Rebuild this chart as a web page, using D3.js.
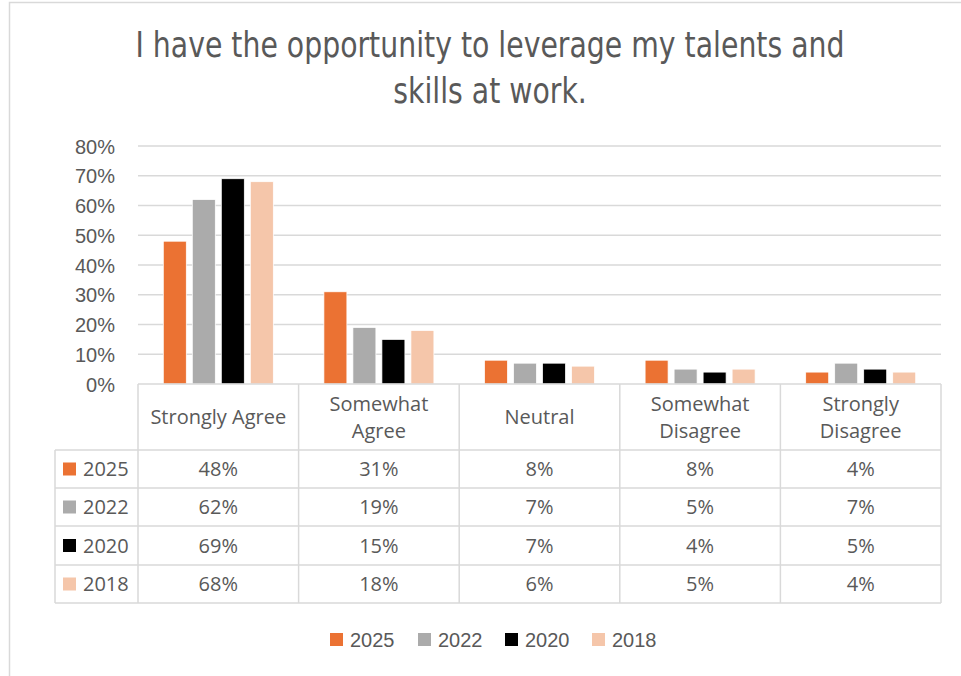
<!DOCTYPE html>
<html>
<head>
<meta charset="utf-8">
<script src="https://cdn.jsdelivr.net/npm/d3@7"></script>
<style>
  html, body { margin: 0; padding: 0; background: #fff; }
  svg { display: block; }
</style>
</head>
<body>
<svg id="chart" width="961" height="676"></svg>
<script>
// Survey responses by year (percent)
const categories = ["Strongly Agree", "Somewhat Agree", "Neutral", "Somewhat Disagree", "Strongly Disagree"];
const categoryLines = [["Strongly Agree"], ["Somewhat", "Agree"], ["Neutral"], ["Somewhat", "Disagree"], ["Strongly", "Disagree"]];
const years = ["2025", "2022", "2020", "2018"];
const v2025 = [48, 31, 8, 8, 4];
const v2022 = [62, 19, 7, 5, 7];
const v2020 = [69, 15, 7, 4, 5];
const v2018 = [68, 18, 6, 5, 4];
const yTicks = [0, 10, 20, 30, 40, 50, 60, 70, 80];
const seriesColors = ["#EB7233", "#ABABAB", "#000000", "#F5C6AA"];
const titleLines = ["I have the opportunity to leverage my talents and", "skills at work."];

const series = years.map((y, i) => ({ year: y, values: [v2025, v2022, v2020, v2018][i], color: seriesColors[i] }));

const svg = d3.select("#chart");
const textColor = "#595959";
const lineColor = "#D9D9D9";
const axisFont = "'Liberation Sans', Arial, sans-serif";
const tableFont = "'Open Sans', 'Liberation Sans', sans-serif";

// Outer frame
svg.append("path")
  .attr("d", "M9.5,676 L9.5,2.5 L961,2.5")
  .attr("fill", "none").attr("stroke", lineColor).attr("stroke-width", 1.5);

// Title (condensed face, stretched slightly taller)
svg.append("g").selectAll("text").data(titleLines).join("text")
  .attr("transform", (d, i) => `translate(490,${57 + i * 46}) scale(1,1.12)`)
  .attr("text-anchor", "middle")
  .attr("font-family", "'DejaVu Sans Condensed', 'Liberation Sans Narrow', sans-serif")
  .attr("font-size", 31.5)
  .attr("fill", textColor)
  .text(d => d);

// Scales
const plotLeft = 138, plotRight = 941, plotTop = 146, plotBottom = 384;
const x = d3.scaleBand().domain(categories).range([plotLeft, plotRight]).paddingInner(0).paddingOuter(0);
const xs = d3.scaleBand().domain(years).range([0, x.bandwidth()]).paddingInner(0.207).paddingOuter(0.872);
const y = d3.scaleLinear().domain([0, 80]).range([plotBottom, plotTop]);

// Gridlines
svg.append("g").selectAll("line").data(yTicks.filter(t => t > 0)).join("line")
  .attr("x1", plotLeft).attr("x2", plotRight)
  .attr("y1", d => y(d)).attr("y2", d => y(d))
  .attr("stroke", lineColor).attr("stroke-width", 1.5);

// Y axis labels
const yAxis = d3.axisLeft(y).tickValues(yTicks).tickFormat(d => d + "%").tickSize(0).tickPadding(0);
const yg = svg.append("g").attr("transform", `translate(${plotLeft - 23},0)`).call(yAxis);
yg.select(".domain").remove();
yg.selectAll("text")
  .attr("font-family", axisFont).attr("font-size", 20).attr("fill", textColor)
  .attr("dy", "0.35em");

// Bars
const groups = svg.append("g").selectAll("g").data(series).join("g").attr("fill", d => d.color);
groups.selectAll("rect").data(s => s.values.map((v, i) => ({ cat: categories[i], v, year: s.year }))).join("rect")
  .attr("x", d => x(d.cat) + xs(d.year))
  .attr("width", xs.bandwidth())
  .attr("y", d => y(d.v))
  .attr("height", d => y(0) - y(d.v))
  .attr("stroke", "#ffffff").attr("stroke-width", 0.75);

// Data table
const tableLeft = 55;
const headerBottom = 450;
const rowEdges = [450, 488, 526, 565, 603];
const tbl = svg.append("g").attr("stroke", lineColor).attr("stroke-width", 1.5);
tbl.append("line").attr("x1", plotLeft).attr("x2", plotRight).attr("y1", plotBottom).attr("y2", plotBottom);
tbl.selectAll("line.row").data(rowEdges).join("line").attr("class", "row")
  .attr("x1", tableLeft).attr("x2", plotRight).attr("y1", d => d).attr("y2", d => d);
const colEdges = categories.map(c => x(c)).concat([plotRight]);
tbl.selectAll("line.col").data(colEdges).join("line").attr("class", "col")
  .attr("x1", d => d).attr("x2", d => d).attr("y1", plotBottom).attr("y2", rowEdges[rowEdges.length - 1]);
tbl.append("line").attr("x1", tableLeft).attr("x2", tableLeft).attr("y1", headerBottom).attr("y2", rowEdges[rowEdges.length - 1]);

// Header labels
const hdr = svg.append("g").attr("font-family", tableFont).attr("font-size", 20).attr("fill", textColor).attr("text-anchor", "middle");
categories.forEach((c, i) => {
  const lines = categoryLines[i];
  const cx = x(c) + x.bandwidth() / 2;
  const midY = (plotBottom + headerBottom) / 2;
  lines.forEach((ln, j) => {
    hdr.append("text")
      .attr("x", cx)
      .attr("y", midY + (j - (lines.length - 1) / 2) * 27)
      .attr("dy", "0.36em")
      .text(ln);
  });
});

// Table rows: legend key, year, values
const rows = svg.append("g").attr("font-family", tableFont).attr("font-size", 20).attr("fill", textColor);
series.forEach((s, r) => {
  const cy = (rowEdges[r] + rowEdges[r + 1]) / 2;
  rows.append("rect").attr("x", 63).attr("y", cy - 6.5).attr("width", 13).attr("height", 13).attr("fill", s.color);
  rows.append("text").attr("x", 83).attr("y", cy).attr("dy", "0.36em").text(s.year);
  s.values.forEach((v, i) => {
    rows.append("text")
      .attr("x", x(categories[i]) + x.bandwidth() / 2)
      .attr("y", cy).attr("dy", "0.36em")
      .attr("text-anchor", "middle")
      .text(v + "%");
  });
});

// Legend
const legendX = [330, 418, 505, 592];
const legend = svg.append("g").selectAll("g").data(series).join("g")
  .attr("transform", (d, i) => `translate(${legendX[i]},639.5)`);
legend.append("rect").attr("x", 0).attr("y", -6.5).attr("width", 13).attr("height", 13).attr("fill", d => d.color);
legend.append("text").attr("x", 20).attr("y", 0).attr("dy", "0.36em")
  .attr("font-family", axisFont).attr("font-size", 20).attr("fill", textColor)
  .text(d => d.year);
</script>
</body>
</html>
